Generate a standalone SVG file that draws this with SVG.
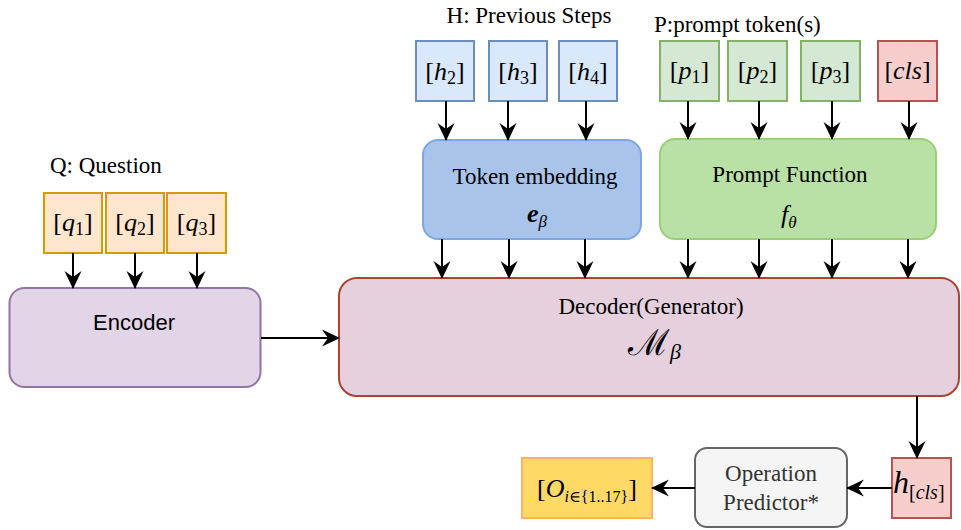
<svg xmlns="http://www.w3.org/2000/svg" width="961" height="530" viewBox="0 0 961 530">
<defs>
<style>
.lbl{font-family:"Liberation Serif","DejaVu Serif",serif;font-size:23px;fill:#000}
.mth{font-family:"Liberation Serif","DejaVu Serif",serif;font-size:26px;fill:#000}
.it{font-style:italic}
.sub{font-size:18px}
.edge{stroke:#000;stroke-width:2;fill:none;marker-end:url(#arr)}
.qbox{fill:#ffe6cc;stroke:#d79b00;stroke-width:2}
.hbox{fill:#dae8fc;stroke:#6c8ebf;stroke-width:2}
.pbox{fill:#d5e8d4;stroke:#82b366;stroke-width:2}
.rbox{fill:#f8cecc;stroke:#b85450;stroke-width:2}
</style>
<marker id="arr" markerUnits="userSpaceOnUse" markerWidth="18" markerHeight="18" viewBox="0 0 18 18" refX="17" refY="9" orient="auto">
<path d="M0,0.5 L18,9 L0,17.5 L6,9 Z" fill="#000"/>
</marker>
</defs>
<rect width="961" height="530" fill="#fff"/>

<text class="lbl" x="50" y="173">Q: Question</text>
<text class="lbl" x="529" y="23" text-anchor="middle">H: Previous Steps</text>
<text class="lbl" x="654" y="32">P:prompt token(s)</text>

<g id="q1"><rect class="qbox" x="44" y="193" width="58" height="60"/><text class="mth" x="73" y="231" text-anchor="middle">[<tspan class="it">q</tspan><tspan class="sub" dy="4">1</tspan><tspan dy="-4">]</tspan></text></g>
<g id="q2"><rect class="qbox" x="106" y="193" width="58" height="60"/><text class="mth" x="135" y="231" text-anchor="middle">[<tspan class="it">q</tspan><tspan class="sub" dy="4">2</tspan><tspan dy="-4">]</tspan></text></g>
<g id="q3"><rect class="qbox" x="167" y="193" width="59" height="60"/><text class="mth" x="196.5" y="231" text-anchor="middle">[<tspan class="it">q</tspan><tspan class="sub" dy="4">3</tspan><tspan dy="-4">]</tspan></text></g>

<g id="encoder"><rect x="9.5" y="288" width="251" height="99" rx="15" fill="#e1d5e7" stroke="#9673a6" stroke-width="2"/><text x="134" y="330" text-anchor="middle" font-family="'Liberation Sans',Arial,sans-serif" font-size="22">Encoder</text></g>

<g id="h2"><rect class="hbox" x="416" y="41" width="58" height="60"/><text class="mth" x="445" y="80" text-anchor="middle">[<tspan class="it">h</tspan><tspan class="sub" dy="4">2</tspan><tspan dy="-4">]</tspan></text></g>
<g id="h3"><rect class="hbox" x="489" y="41" width="58" height="60"/><text class="mth" x="518" y="80" text-anchor="middle">[<tspan class="it">h</tspan><tspan class="sub" dy="4">3</tspan><tspan dy="-4">]</tspan></text></g>
<g id="h4"><rect class="hbox" x="559" y="41" width="58" height="60"/><text class="mth" x="588" y="80" text-anchor="middle">[<tspan class="it">h</tspan><tspan class="sub" dy="4">4</tspan><tspan dy="-4">]</tspan></text></g>

<g id="p1"><rect class="pbox" x="660" y="41" width="59" height="60"/><text class="mth" x="689.5" y="79" text-anchor="middle">[<tspan class="it">p</tspan><tspan class="sub" dy="4">1</tspan><tspan dy="-4">]</tspan></text></g>
<g id="p2"><rect class="pbox" x="728" y="41" width="59" height="60"/><text class="mth" x="757.5" y="79" text-anchor="middle">[<tspan class="it">p</tspan><tspan class="sub" dy="4">2</tspan><tspan dy="-4">]</tspan></text></g>
<g id="p3"><rect class="pbox" x="801" y="41" width="59" height="60"/><text class="mth" x="830.5" y="79" text-anchor="middle">[<tspan class="it">p</tspan><tspan class="sub" dy="4">3</tspan><tspan dy="-4">]</tspan></text></g>
<g id="cls"><rect class="rbox" x="878" y="41" width="59" height="60"/><text class="mth" x="907.5" y="79" text-anchor="middle">[<tspan class="it">cls</tspan>]</text></g>

<g id="token-embedding"><rect x="423" y="140" width="218" height="99" rx="15" fill="#a9c4eb" stroke="#7ea6e0" stroke-width="2"/><text class="lbl" x="535" y="184" text-anchor="middle">Token embedding</text><text class="mth" x="527" y="222"><tspan font-style="italic" font-weight="bold">e</tspan><tspan class="it" font-size="17" dy="5">β</tspan></text></g>

<g id="prompt-function"><rect x="660" y="139" width="276" height="100" rx="15" fill="#b9e0a5" stroke="#97d077" stroke-width="2"/><text class="lbl" x="790" y="182" text-anchor="middle">Prompt Function</text><text class="mth" x="781" y="223"><tspan class="it">f</tspan><tspan class="it" font-size="17" dy="5">θ</tspan></text></g>

<g id="decoder"><rect x="339" y="278" width="620" height="118" rx="18" fill="#e6d0de" stroke="#ae4132" stroke-width="2"/><text class="lbl" x="651" y="314" text-anchor="middle">Decoder(Generator)</text><text x="628" y="355" font-family="'DejaVu Serif','Liberation Serif',serif" font-size="36">ℳ<tspan font-family="'Liberation Serif',serif" font-style="italic" font-size="22" dy="4">β</tspan></text></g>

<g id="h-cls"><rect class="rbox" x="892" y="458" width="59" height="60"/><text x="893" y="493" font-family="'Liberation Serif','DejaVu Serif',serif" font-size="32"><tspan class="it">h</tspan><tspan font-size="20" dy="6">[<tspan class="it">cls</tspan>]</tspan></text></g>

<g id="operation-predictor"><rect x="695" y="448" width="152" height="79" rx="12" fill="#f5f5f5" stroke="#666666" stroke-width="2"/><text class="lbl" x="771" y="481" text-anchor="middle" style="fill:#333333">Operation</text><text class="lbl" x="771" y="510" text-anchor="middle" style="fill:#333333">Predictor*</text></g>

<g id="operations"><rect x="522" y="458" width="130" height="60" fill="#ffd966" stroke="#ffb366" stroke-width="2"/><text class="mth" x="587" y="497" text-anchor="middle">[<tspan class="it">O</tspan><tspan font-size="16" dy="5"><tspan class="it">i</tspan>∈{1..17}</tspan><tspan dy="-5">]</tspan></text></g>

<g id="connectors">
<line class="edge" x1="73" y1="253" x2="73" y2="288"/>
<line class="edge" x1="135" y1="253" x2="135" y2="288"/>
<line class="edge" x1="197" y1="253" x2="197" y2="288"/>
<line class="edge" x1="261" y1="338" x2="339" y2="338"/>
<line class="edge" x1="446" y1="101" x2="446" y2="140"/>
<line class="edge" x1="508" y1="101" x2="508" y2="140"/>
<line class="edge" x1="586" y1="101" x2="586" y2="140"/>
<line class="edge" x1="688" y1="101" x2="688" y2="139"/>
<line class="edge" x1="759" y1="101" x2="759" y2="139"/>
<line class="edge" x1="832" y1="101" x2="832" y2="139"/>
<line class="edge" x1="909" y1="101" x2="909" y2="139"/>
<line class="edge" x1="442" y1="239" x2="442" y2="278"/>
<line class="edge" x1="509" y1="239" x2="509" y2="278"/>
<line class="edge" x1="585" y1="239" x2="585" y2="278"/>
<line class="edge" x1="688" y1="239" x2="688" y2="278"/>
<line class="edge" x1="759" y1="239" x2="759" y2="278"/>
<line class="edge" x1="832" y1="239" x2="832" y2="278"/>
<line class="edge" x1="908" y1="239" x2="908" y2="278"/>
<line class="edge" x1="917" y1="396" x2="917" y2="458"/>
<line class="edge" x1="892" y1="488" x2="847" y2="488"/>
<line class="edge" x1="695" y1="488" x2="652" y2="488"/>
</g>
</svg>
